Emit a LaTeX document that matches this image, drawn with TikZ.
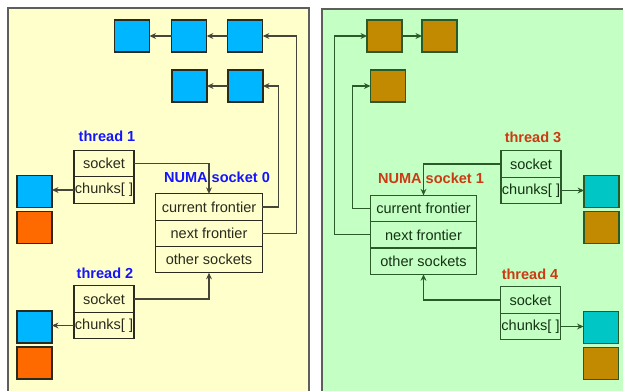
\documentclass[tikz,border=0pt]{standalone}
\usepackage{fontspec}
\setmainfont{Liberation Sans}
\usetikzlibrary{arrows.meta, positioning}
\definecolor{paneyel}{HTML}{FFFFCC}
\definecolor{panegrn}{HTML}{C4FFC4}
\definecolor{framegr}{HTML}{5E5E5A}
\definecolor{inkyel}{HTML}{2A2A1E}
\definecolor{wireyel}{HTML}{45453A}
\definecolor{inkgrn}{HTML}{2A5A2A}
\definecolor{txtgrn}{HTML}{143214}
\definecolor{skyblue}{HTML}{00B6FF}
\definecolor{hotorng}{HTML}{FF6A00}
\definecolor{ochre}{HTML}{C28A00}
\definecolor{tealsq}{HTML}{00C6C6}
\definecolor{lblblue}{HTML}{1414FF}
\definecolor{lblred}{HTML}{CC3A14}

\begin{document}
\begin{tikzpicture}[
  x=0.03cm, y=-0.03cm,
  font=\fontsize{12.4}{14}\selectfont,
  cell/.style={draw, minimum width=1.8cm, minimum height=0.795cm,
               inner sep=0pt, outer sep=0pt},
  numacell/.style={draw, minimum width=3.2cm, minimum height=0.79cm,
                   inner sep=0pt, outer sep=0pt},
  sq/.style={draw, minimum width=1.05cm, minimum height=0.96cm,
             inner sep=0pt, outer sep=0pt},
  tag/.style={font=\fontsize{12.4}{14}\selectfont\bfseries},
  arr/.style={-{Stealth[length=5.5pt, width=5pt]}},
  yel/.style={line width=0.9pt, draw=inkyel, text=inkyel},
  grn/.style={line width=0.9pt, draw=inkgrn, text=txtgrn}
]
  \clip (0,0) rectangle (623,390);
  \useasboundingbox (0,0) rectangle (623,390);
  \fill[white] (0,0) rectangle (623,390);

  % two panels, one per socket
  \draw[fill=paneyel, draw=framegr, line width=1.1pt] (8,8) rectangle (309,400);
  \draw[fill=panegrn, draw=framegr, line width=1.1pt] (322,9) rectangle (640,400);

  % ---- socket 0 ----
  \begin{scope}[every node/.append style={yel}]
    \node[sq, fill=skyblue] (a1) at (132,36) {};
    \node[sq, fill=skyblue, right=0.67cm of a1] (a2) {};
    \node[sq, fill=skyblue, right=0.63cm of a2] (a3) {};
    \node[sq, fill=skyblue] (b1) at (189.5,86) {};
    \node[sq, fill=skyblue, right=0.63cm of b1] (b2) {};

    \node[tag, text=lblblue, draw=none] (t1lbl) at (107,136) {thread 1};
    \node[cell] (t1sock) at (104,163.5) {socket};
    \node[cell, below=0pt of t1sock] (t1chk) {chunks[\ ]};
    \node[sq, fill=skyblue] (t1ch) at (34.5,191.5) {};
    \node[sq, fill=hotorng, below=0.12cm of t1ch] (t1ch2) {};

    \node[tag, text=lblblue, draw=none] (n0lbl) at (217,177) {NUMA socket 0};
    \node[numacell] (cur0) at (209,207) {current frontier};
    \node[numacell, below=0pt of cur0] (next0) {next frontier};
    \node[numacell, below=0pt of next0] (oth0) {other sockets};

    \node[tag, text=lblblue, draw=none] (t2lbl) at (105,273) {thread 2};
    \node[cell] (t2sock) at (104,299) {socket};
    \node[cell, below=0pt of t2sock] (t2chk) {chunks[\ ]};
    \node[sq, fill=skyblue] (t2ch) at (34.5,327) {};
    \node[sq, fill=hotorng, below=0.12cm of t2ch] (t2ch2) {};
  \end{scope}

  \begin{scope}[line width=0.9pt, draw=wireyel]
    \draw[arr] (a3) -- (a2);
    \draw[arr] (a2) -- (a1);
    \draw[arr] (b2) -- (b1);
    \draw[arr] (next0.east) -- ++(34,0) |- (a3.east);
    \draw[arr] (cur0.east) -- ++(16,0) |- (b2.east);
    \draw[arr] (t1sock.east) -| (cur0.north);
    \draw[arr] (t2sock.east) -| (oth0.south);
    \draw[arr] (t1chk.west) -- (t1chk.west -| t1ch.east);
    \draw[arr] (t2chk.west) -- (t2chk.west -| t2ch.east);
  \end{scope}

  % ---- socket 1 ----
  \begin{scope}[every node/.append style={grn}]
    \node[sq, fill=ochre] (c1) at (384.5,36) {};
    \node[sq, fill=ochre, right=0.6cm of c1] (c2) {};
    \node[sq, fill=ochre] (d1) at (388,86) {};

    \node[tag, text=lblred, draw=none] (t3lbl) at (533,137) {thread 3};
    \node[cell] (t3sock) at (531,164) {socket};
    \node[cell, below=0pt of t3sock] (t3chk) {chunks[\ ]};
    \node[sq, fill=tealsq] (t3ch) at (601.5,191.5) {};
    \node[sq, fill=ochre, below=0.12cm of t3ch] (t3ch2) {};

    \node[tag, text=lblred, draw=none] (n1lbl) at (431,178) {NUMA socket 1};
    \node[numacell] (cur1) at (423.5,208.5) {current frontier};
    \node[numacell, below=0pt of cur1] (next1) {next frontier};
    \node[numacell, below=0pt of next1] (oth1) {other sockets};

    \node[tag, text=lblred, draw=none] (t4lbl) at (530,274) {thread 4};
    \node[cell] (t4sock) at (530.5,300) {socket};
    \node[cell, below=0pt of t4sock] (t4chk) {chunks[\ ]};
    \node[sq, fill=tealsq] (t4ch) at (601,327.5) {};
    \node[sq, fill=ochre, below=0.12cm of t4ch] (t4ch2) {};
  \end{scope}

  \begin{scope}[line width=0.9pt, draw=inkgrn]
    \draw[arr] (c1) -- (c2);
    \draw[arr] (next1.west) -- ++(-36,0) |- (c1.west);
    \draw[arr] (cur1.west) -- ++(-18,0) |- (d1.west);
    \draw[arr] (t3sock.west) -| (cur1.north);
    \draw[arr] (t4sock.west) -| (oth1.south);
    \draw[arr] (t3chk.east) -- (t3chk.east -| t3ch.west);
    \draw[arr] (t4chk.east) -- (t4chk.east -| t4ch.west);
  \end{scope}
\end{tikzpicture}
\end{document}
